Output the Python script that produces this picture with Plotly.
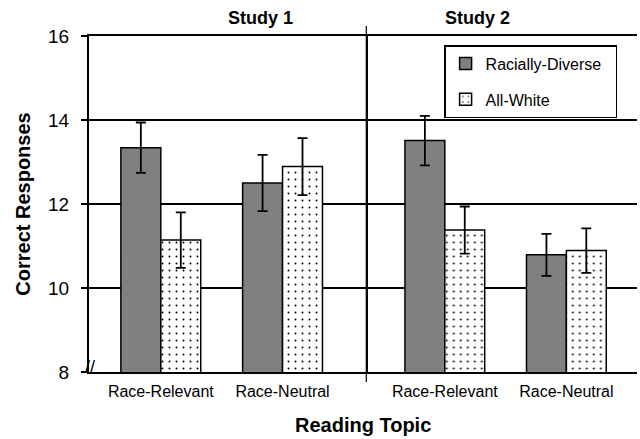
import plotly.graph_objects as go

topics = ["Race-Relevant", "Race-Neutral"]
studies = ["Study 1", "Study 2"]
diverse_means = [[13.34, 12.50], [13.51, 10.79]]
diverse_err = [[0.60, 0.67], [0.59, 0.50]]
white_means = [[11.14, 12.89], [11.38, 10.89]]
white_err = [[0.66, 0.68], [0.56, 0.53]]
y_ticks = [8, 10, 12, 14, 16]

FONT = "Liberation Sans, Arial, sans-serif"
split = 0.506

fig = go.Figure()
for i, st in enumerate(studies):
    xa = "x" if i == 0 else "x2"
    fig.add_trace(go.Bar(
        x=topics, y=diverse_means[i], xaxis=xa, yaxis="y",
        name="Racially-Diverse  ", legendgroup="rd", showlegend=(i == 0),
        marker=dict(color="#808080", line=dict(color="black", width=1.5)),
        error_y=dict(type="data", array=diverse_err[i], color="black",
                     thickness=1.8, width=5),
    ))
    fig.add_trace(go.Bar(
        x=topics, y=white_means[i], xaxis=xa, yaxis="y",
        name="All-White", legendgroup="aw", showlegend=(i == 0),
        marker=dict(color="white", line=dict(color="black", width=1.5),
                    pattern=dict(shape=".", size=7, solidity=0.06,
                                 fgcolor="black", bgcolor="white",
                                 fillmode="replace")),
        error_y=dict(type="data", array=white_err[i], color="black",
                     thickness=1.8, width=5),
    ))

xcommon = dict(type="category", showgrid=False, ticks="", zeroline=False,
               tickfont=dict(family=FONT, size=16, color="black"),
               ticklabelstandoff=4,
               showline=True, linecolor="black", linewidth=2, mirror=True,
               anchor="y", automargin=False)
fig.update_layout(
    xaxis=dict(domain=[0, split], range=[-0.59, 1.688], **xcommon),
    xaxis2=dict(domain=[split, 1], range=[-0.646, 1.581], **xcommon),
    yaxis=dict(range=[8, 16], tickvals=y_ticks, ticks="outside", ticklen=6,
               tickcolor="black", tickwidth=1.5, ticklabelstandoff=8,
               showgrid=True, gridcolor="black", gridwidth=1.5,
               zeroline=False, showline=True, linecolor="black", linewidth=2,
               mirror=True, automargin=False,
               tickfont=dict(family=FONT, size=19, color="black"),
               title=dict(text="<b>Correct Responses</b>", standoff=12,
                          font=dict(family=FONT, size=20, color="black"))),
    barmode="group", bargap=0.344, bargroupgap=0,
    width=640, height=439,
    margin=dict(l=89, r=3, t=36, b=67),
    paper_bgcolor="white", plot_bgcolor="white",
    showlegend=True,
    legend=dict(x=0.648, y=0.973, xanchor="left", yanchor="top",
                bgcolor="white", bordercolor="black", borderwidth=1.5,
                tracegroupgap=12,
                font=dict(family=FONT, size=16, color="black")),
)

# Study headers
header_x = [0.25, 0.772]
for i, st in enumerate(studies):
    fig.add_annotation(text="<b>" + st + "</b>", xref="paper", yref="paper",
                       x=header_x[i], y=1.0,
                       yanchor="middle", yshift=18, showarrow=False,
                       font=dict(family=FONT, size=18, color="black"))

# Reading topic title
fig.add_annotation(text="<b>Reading Topic</b>", xref="paper", yref="paper",
                   x=0.5, y=0, yanchor="middle", yshift=-53, showarrow=False,
                   font=dict(family=FONT, size=20, color="black"))

# Divider between studies
fig.add_shape(type="line", xref="paper", yref="paper", x0=split, x1=split,
              y0=-0.03, y1=1.03, line=dict(color="black", width=1.2))
# Axis break mark
fig.add_annotation(text="//", xref="paper", yref="y", x=0, y=8,
                   showarrow=False, xshift=-6, yshift=5,
                   font=dict(family=FONT, size=18, color="black"))

fig.write_html("out.html", config={"displayModeBar": False},
               post_script="document.body.style.margin='0';"
                           "document.body.style.overflow='hidden';")
